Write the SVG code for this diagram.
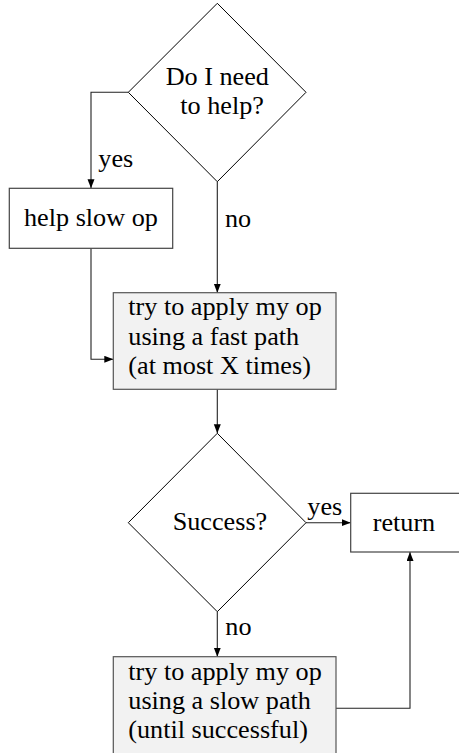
<svg xmlns="http://www.w3.org/2000/svg" width="459" height="753" viewBox="0 0 459 753">
  <defs>
    <marker id="arr" markerUnits="userSpaceOnUse" markerWidth="10" markerHeight="8" refX="9" refY="3.5" orient="auto">
      <path d="M0,0 L9,3.5 L0,7 z" fill="#000"/>
    </marker>
    <style>
      text { font-family: "Liberation Serif", "Times New Roman", serif; font-size: 26.2px; fill: #000; }
      .dia { fill: #fff; stroke: #000; stroke-width: 1; }
      .box { fill: #fff; stroke: #444; stroke-width: 1.2; }
      .gbox { fill: #f2f2f2; stroke: #555; stroke-width: 1.2; }
      .conn path { fill: none; stroke: #222; stroke-width: 1.1; marker-end: url(#arr); }
    </style>
  </defs>
  <rect width="459" height="753" fill="#fff"/>

  <g class="conn" id="connectors">
    <path d="M128.3,92.3 H91 V188.3"/>
    <path d="M217.3,181.7 V292.7"/>
    <path d="M91,248.3 V359.3 H113.3"/>
    <path d="M217.3,389.3 V433.3"/>
    <path d="M306,522.7 H350.7"/>
    <path d="M217.3,611.7 V656.7"/>
    <path d="M336,708.3 H410 V552"/>
  </g>

  <g id="need-help">
    <polygon class="dia" points="217.3,3.3 306,92.3 217.3,181.7 128.3,92.3"/>
    <text x="165.7" y="85">Do I need</text>
    <text x="180.3" y="114.3">to help?</text>
  </g>

  <g id="help-slow-op">
    <rect class="box" x="9.3" y="188.3" width="163.4" height="60"/>
    <text x="24" y="225.5">help slow op</text>
  </g>

  <g id="fast-path">
    <rect class="gbox" x="113.3" y="292.7" width="222.7" height="96.6"/>
    <text x="128.3" y="315">try to apply my op</text>
    <text x="128.3" y="345">using a fast path</text>
    <text x="128.3" y="374.3">(at most X times)</text>
  </g>

  <g id="success">
    <polygon class="dia" points="217.3,433.3 306,522.7 217.3,611.7 128.3,522.7"/>
    <text x="172.7" y="530">Success?</text>
  </g>

  <g id="return">
    <rect class="box" x="350.7" y="493.3" width="130" height="58.7"/>
    <text x="372.7" y="530.7">return</text>
  </g>

  <g id="slow-path">
    <rect class="gbox" x="113.3" y="656.7" width="222.7" height="110"/>
    <text x="128.3" y="680">try to apply my op</text>
    <text x="128.3" y="709.3">using a slow path</text>
    <text x="128.3" y="738.3">(until successful)</text>
  </g>

  <g id="labels">
    <text x="98.3" y="166.7">yes</text>
    <text x="225" y="226.7">no</text>
    <text x="307.3" y="515">yes</text>
    <text x="225.3" y="635">no</text>
  </g>
</svg>
